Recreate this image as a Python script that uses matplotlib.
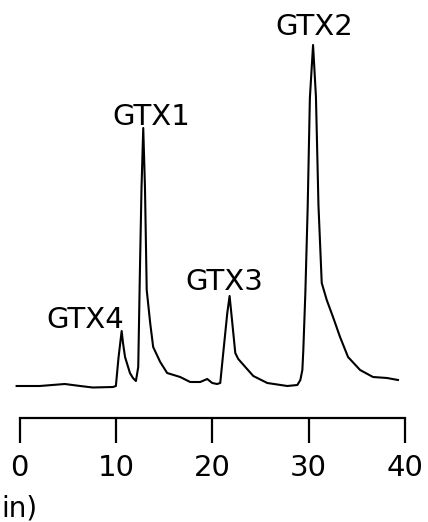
import matplotlib
matplotlib.use("Agg")
import matplotlib.pyplot as plt

# retention time (min) and detector response (arbitrary units)
time_min = [-0.3, 2.1, 4.7, 6.3, 7.6, 9.7, 10.0, 10.27, 10.6, 10.74, 10.95, 11.46, 11.77,
            12.08, 12.32, 12.5, 12.66, 12.84, 13.02, 13.2, 13.56, 13.87, 14.6, 15.32,
            16.67, 17.71, 18.75, 19.48, 20.0, 20.5, 20.83, 21.14, 21.56, 21.8, 22.05,
            22.39, 22.7, 23.43, 24.26, 25.71, 27.79, 28.83, 29.14, 29.35, 29.45, 29.66,
            29.9, 30.13, 30.46, 30.76, 31.02, 31.36, 31.88, 32.53, 33.26, 34.09, 35.34,
            36.68, 38.13, 39.27]
signal = [2, 2, 4, 2, 0.5, 1, 2, 30, 57, 45, 31, 15, 10,
          7, 21, 120, 200, 260, 200, 98, 65, 41, 26, 15,
          11, 6, 6, 9, 5, 4, 5, 35, 75, 92, 68,
          35, 29, 21, 12, 5, 2, 3, 8, 18, 38, 95,
          180, 290, 343, 291, 183, 105, 88, 71, 51, 31, 18,
          11, 10, 8]

peak_names = ["GTX4", "GTX1", "GTX3", "GTX2"]
label_x = [6.86, 13.71, 21.25, 30.55]
label_y = [60, 263, 98, 353]

fig = plt.figure(figsize=(4.28, 5.22), dpi=100)
ax = fig.add_axes([19.5 / 428, 104 / 522, 385.5 / 428, 418 / 522])

ax.plot(time_min, signal, color="black", linewidth=1.5, clip_on=False)

for name, tx, ty in zip(peak_names, label_x, label_y):
    ax.text(tx, ty, name, ha="center", va="baseline", fontsize=21)

ax.set_xlim(0, 40)
ax.set_ylim(-30, 388)
ax.set_xticks([0, 10, 20, 30, 40])
ax.set_yticks([])
for side in ["left", "right", "top"]:
    ax.spines[side].set_visible(False)
ax.spines["bottom"].set_linewidth(1.6)
ax.tick_params(axis="x", direction="out", length=18, width=1.6, pad=8, labelsize=21)
ax.patch.set_visible(False)

# only the end of the axis title is visible in the original
fig.text(1 / 428, 1 - 509 / 522, "in)", ha="left", va="center", fontsize=20)

fig.savefig("out.png", dpi=100)
